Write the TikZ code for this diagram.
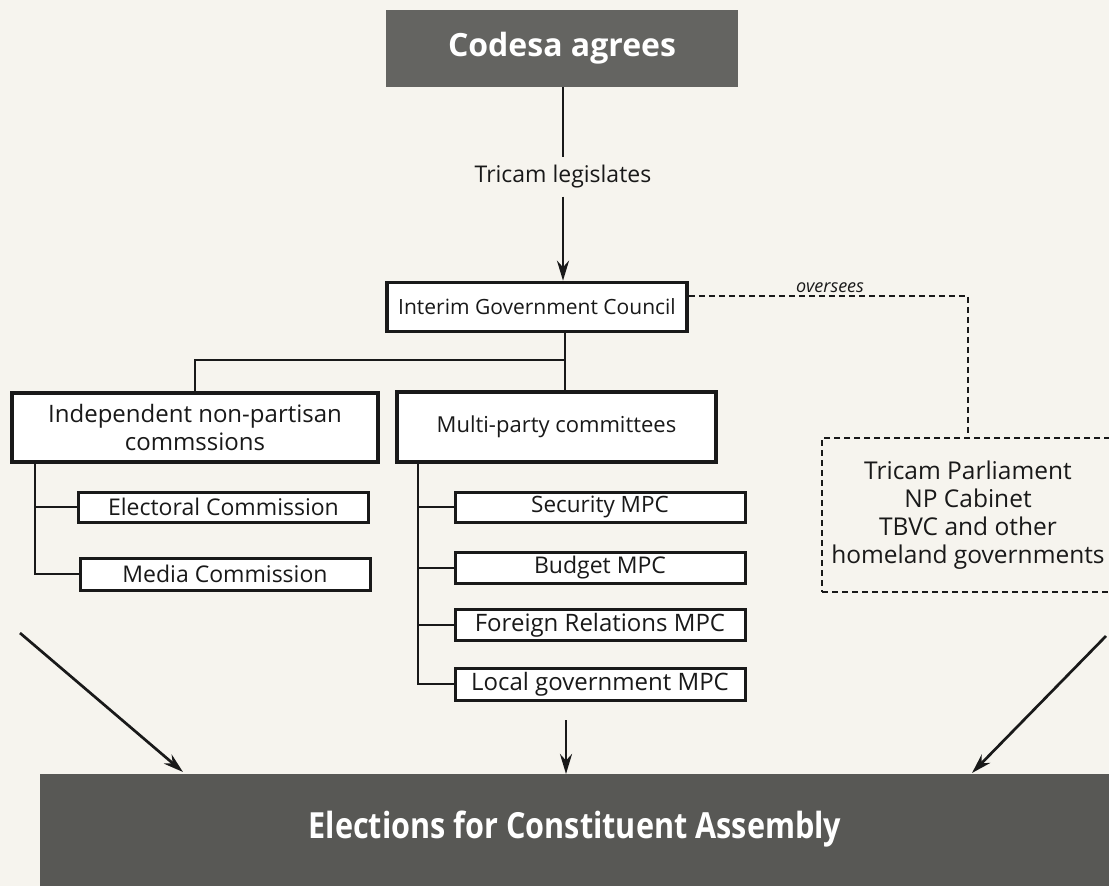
\documentclass[tikz,border=0pt]{standalone}
\usepackage{fontspec}
\setmainfont{Open Sans}
\usetikzlibrary{arrows.meta}
\definecolor{paper}{RGB}{246,244,238}
\definecolor{ink}{RGB}{25,25,25}
\definecolor{darkfill}{RGB}{100,100,97}
\definecolor{darkerfill}{RGB}{88,88,85}
\newcommand{\fs}[1]{\fontsize{#1}{#1}\selectfont}
\tikzset{
  box/.style={draw=ink, line width=3.6pt, fill=white, align=center, inner sep=0pt, text=ink},
  subbox/.style={draw=ink, line width=3pt, fill=white, inner sep=0pt, minimum width=290pt, text=ink},
  dashbox/.style={draw=ink, line width=2.3pt, dash pattern=on 6pt off 4pt, fill=paper, align=center, inner sep=0pt, font=\fontsize{24.5}{28}\selectfont, text=ink},
  darkbox/.style={fill=darkfill, inner sep=0pt, text=white, font=\bfseries\fs{32}},
  conn/.style={draw=ink, line width=2.7pt},
  arr/.style={conn, -{Stealth[length=20pt,width=12pt]}},
  dconn/.style={draw=ink, line width=2.3pt, dash pattern=on 6pt off 4pt},
}
\begin{document}
\begin{tikzpicture}[x=1pt,y=-1pt]
\fill[paper] (0,0) rectangle (1109,886);
\useasboundingbox (0,0) rectangle (1109,886);
\clip (0,0) rectangle (1109,886);

\node[darkbox, minimum width=352pt, minimum height=77pt] (codesa) at (562,48.5) {Codesa agrees};
\node[box, minimum width=300pt, minimum height=49pt, font=\fs{21}] (igc) at (537,307) {Interim Government Council};
\node[box, minimum width=366pt, minimum height=69pt, font=\fontsize{24}{28}\selectfont] (ind) at (195,427.5) {Independent non-partisan\\commssions};
\node[box, minimum width=319pt, minimum height=70pt, font=\fs{22}] (mpc) at (556.5,427) {Multi-party committees};

\node[subbox, minimum height=30pt, font=\fs{23}] (elec) at (223.5,507) {Electoral Commission};
\node[subbox, minimum height=32pt, font=\fs{23}] (media) at (225,574) {Media Commission};

\node[subbox, minimum height=30pt, font=\fs{22.5}] (sec) at (600,507) {Security MPC};
\node[subbox, minimum height=31pt, font=\fs{23}] (bud) at (600,568) {Budget MPC};
\node[subbox, minimum height=31pt, font=\fs{24}] (for) at (600,625) {Foreign Relations MPC};
\node[subbox, minimum height=32pt, font=\fs{24}] (loc) at (600,684) {Local government MPC};

\node[dashbox, minimum width=292pt, minimum height=154pt] (tri) at (968,515) {Tricam Parliament\\NP Cabinet\\TBVC and other\\homeland governments};

\node[darkbox, fill=darkerfill, minimum width=1070pt, minimum height=140pt, anchor=north west] (elect) at (40,774) {};
\node[text=white, font=\bfseries\fs{36}] (electtxt) at (575,829) {\scalebox{0.85}[1]{Elections for Constituent Assembly}};

% Codesa -> IGC
\node[fill=paper, inner xsep=2pt, inner ysep=8pt, font=\fs{23}, text=ink] (leg) at (563,177) {Tricam legislates};
\draw[conn] (codesa.south -| leg) -- (leg.north);
\draw[arr] (leg.south) -- (leg |- igc.north);

% oversees
\coordinate (ov) at (968,296);
\draw[dconn] (igc.east |- ov) -- (ov) -- (tri.north);
\node[font=\itshape\fs{18}, text=ink, fill=paper, inner sep=1pt] (ovl) at (830,288) {oversees};

% IGC trunk
\coordinate (j) at (565,360);
\draw[conn] (igc.south -| j) -- (mpc.north -| j);
\draw[conn] (j) -| (ind.north);

% left tree
\coordinate (lt) at (35,462);
\draw[conn] (ind.south -| lt) |- (media.west);
\draw[conn] (lt |- elec.west) -- (elec.west);

% middle tree
\coordinate (mt) at (418,462);
\draw[conn] (mpc.south -| mt) |- (loc.west);
\draw[conn] (mt |- sec.west) -- (sec.west);
\draw[conn] (mt |- bud.west) -- (bud.west);
\draw[conn] (mt |- for.west) -- (for.west);

% arrows to elections
\coordinate (a1) at (20,633);
\coordinate (a3) at (1106,636);
\coordinate (a2) at (566,720);
\draw[arr] (a1) -- (183,772);
\draw[arr] (a2) -- (a2 |- elect.north);
\draw[arr] (a3) -- (972,773);
\end{tikzpicture}
\end{document}
